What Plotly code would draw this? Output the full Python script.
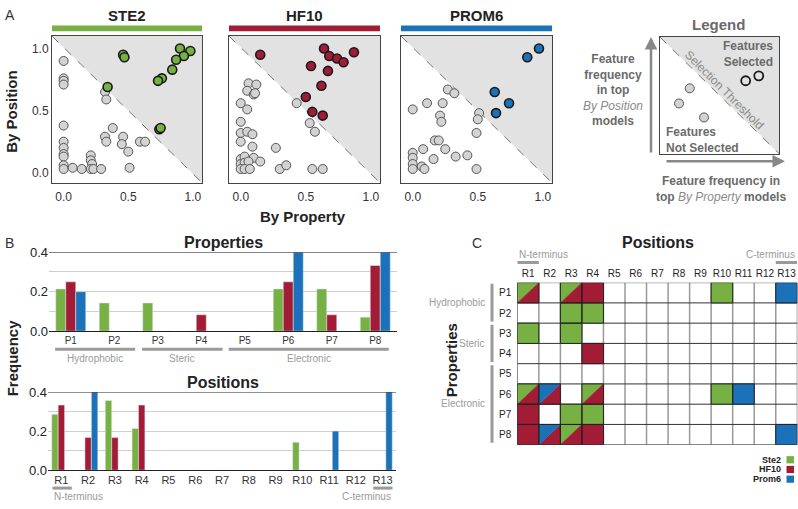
import plotly.graph_objects as go

# ---------------- DATA ----------------
# Panel A: feature frequency (x = By Property, y = By Position)
ste2_sel_x = [0.46, 0.47, 0.90, 0.98, 0.93, 0.87, 0.84, 0.76, 0.73, 0.34, 0.74, 0.75]
ste2_sel_y = [0.95, 0.93, 1.00, 0.98, 0.94, 0.91, 0.83, 0.76, 0.74, 0.69, 0.35, 0.36]
ste2_oth_x = [0, 0, 0, 0, 0.32, 0.33, 0, 0.38, 0.32, 0.33, 0.46, 0.45, 0.50, 0.59, 0.63,
              0, 0, 0, 0, 0, 0, 0.07, 0.14, 0.21, 0.21, 0.22, 0.21, 0.23, 0.29, 0.51]
ste2_oth_y = [0.90, 0.76, 0.74, 0.71, 0.65, 0.59, 0.38, 0.36, 0.29, 0.25, 0.29, 0.23, 0.17, 0.25, 0.25,
              0.25, 0.20, 0.15, 0.13, 0.06, 0.03, 0.04, 0.03, 0.14, 0.10, 0.07, 0.03, 0.03, 0.03, 0.04]

hf10_sel_x = [0.15, 0.64, 0.68, 0.74, 0.79, 0.87, 0.54, 0.67, 0.62, 0.50, 0.55, 0.63]
hf10_sel_y = [0.95, 1.00, 0.94, 0.92, 0.89, 0.97, 0.86, 0.82, 0.70, 0.61, 0.49, 0.46]
hf10_oth_x = [0.06, 0.12, 0.05, 0.10, 0.11, 0, 0.05, 0.43, 0, 0, 0.05, 0.09, 0, 0.09, 0.53, 0.57,
              0.27, 0, 0.03, 0.10, 0.15, 0, 0.03, 0.06, 0, 0.03, 0.07, 0.30, 0.35, 0.55, 0.63]
hf10_oth_y = [0.72, 0.71, 0.66, 0.63, 0.64, 0.56, 0.51, 0.56, 0.41, 0.32, 0.33, 0.31, 0.25, 0.21, 0.40, 0.33,
              0.20, 0.11, 0.13, 0.12, 0.09, 0.07, 0.08, 0.09, 0.03, 0.03, 0.03, 0.03, 0.06, 0.03, 0.03]

prom6_sel_x = [0.97, 0.88, 0.63, 0.74, 0.64]
prom6_sel_y = [1.00, 0.93, 0.65, 0.56, 0.48]
prom6_oth_x = [0.27, 0.32, 0.11, 0.23, 0.0, 0.21, 0.22, 0.51, 0.50, 0.49, 0.17, 0.20, 0.08, 0.25,
               0, 0, 0.16, 0.33, 0.42, 0, 0, 0.07, 0.09, 0.49]
prom6_oth_y = [0.67, 0.64, 0.56, 0.56, 0.51, 0.46, 0.41, 0.48, 0.43, 0.32, 0.26, 0.26, 0.19, 0.19,
               0.16, 0.12, 0.11, 0.13, 0.14, 0.07, 0.03, 0.05, 0.03, 0.03]

# Legend illustration points
legend_unsel_x = [0.25, 0.16, 0.37]
legend_unsel_y = [0.56, 0.43, 0.31]
legend_sel_x = [0.72, 0.83]
legend_sel_y = [0.625, 0.667]

# Panel B
properties = ["P1", "P2", "P3", "P4", "P5", "P6", "P7", "P8"]
prop_ste2 = [0.214, 0.143, 0.143, 0, 0, 0.214, 0.214, 0.071]
prop_hf10 = [0.25, 0, 0, 0.083, 0, 0.25, 0.083, 0.333]
prop_prom6 = [0.2, 0, 0, 0, 0, 0.4, 0, 0.4]

positions = ["R1", "R2", "R3", "R4", "R5", "R6", "R7", "R8", "R9", "R10", "R11", "R12", "R13"]
pos_ste2 = [0.286, 0, 0.357, 0.214, 0, 0, 0, 0, 0, 0.143, 0, 0, 0]
pos_hf10 = [0.333, 0.167, 0.167, 0.333, 0, 0, 0, 0, 0, 0, 0, 0, 0]
pos_prom6 = [0, 0.4, 0, 0, 0, 0, 0, 0, 0, 0, 0.2, 0, 0.4]

prop_groups = ["Hydrophobic", "Steric", "Electronic"]

# Panel C: selected (property, position) cells per dataset
ste2_cells = [("P1", "R1"), ("P1", "R3"), ("P1", "R10"), ("P2", "R3"), ("P2", "R4"),
              ("P3", "R1"), ("P3", "R3"), ("P6", "R1"), ("P6", "R4"), ("P6", "R10"),
              ("P7", "R3"), ("P7", "R4"), ("P8", "R3")]
hf10_cells = [("P1", "R1"), ("P1", "R3"), ("P1", "R4"), ("P4", "R4"), ("P6", "R1"),
              ("P6", "R2"), ("P6", "R4"), ("P7", "R1"), ("P8", "R1"), ("P8", "R2"),
              ("P8", "R3"), ("P8", "R4")]
prom6_cells = [("P1", "R13"), ("P6", "R2"), ("P6", "R11"), ("P8", "R2"), ("P8", "R13")]

# ---------------- STYLE ----------------
GREEN = "#77b043"
RED = "#a31c36"
BLUE = "#1b72b8"
GRAYPT = "#d3d3d3"
TRI = "#e2e2e2"
FONT = "Liberation Sans, Arial, sans-serif"
W, H = 798, 509


def dx(a, b):
    return [a / W, b / W]


def dy(top, bottom):
    return [1 - bottom / H, 1 - top / H]


def px(X):
    return X / W


def py(Y):
    return 1 - Y / H


fig = go.Figure()
annotations = []
shapes = []


def ann(text, X, Y, size=12, color="#222", xanchor="center", angle=0, align="center"):
    annotations.append(dict(text=text, x=px(X), y=py(Y), xref="paper", yref="paper",
                            showarrow=False, xanchor=xanchor, yanchor="middle", textangle=angle,
                            align=align, font=dict(size=size, color=color, family=FONT)))


# ---------------- PANEL A ----------------
panels = [
    ("STE2", GREEN, ste2_sel_x, ste2_sel_y, ste2_oth_x, ste2_oth_y, (52, 202)),
    ("HF10", RED, hf10_sel_x, hf10_sel_y, hf10_oth_x, hf10_oth_y, (229, 380)),
    ("PROM6", BLUE, prom6_sel_x, prom6_sel_y, prom6_oth_x, prom6_oth_y, (401, 552)),
]
layout_axes = {}
for i, (name, col, sx, sy, ox, oy, (x0, x1)) in enumerate(panels):
    s = "" if i == 0 else str(i + 1)
    fig.add_trace(go.Scatter(x=ox, y=oy, mode="markers", xaxis="x" + s, yaxis="y" + s,
                             marker=dict(size=9, color=GRAYPT, line=dict(color="#555", width=1)),
                             showlegend=False, hoverinfo="skip"))
    fig.add_trace(go.Scatter(x=sx, y=sy, mode="markers", xaxis="x" + s, yaxis="y" + s,
                             marker=dict(size=9, color=col, line=dict(color="#1a1a1a", width=1.6)),
                             showlegend=False, hoverinfo="skip"))
    layout_axes["xaxis" + s] = dict(domain=dx(x0, x1), range=[-0.09, 1.07], anchor="y" + s,
                                    tickvals=[0, 0.5, 1], ticktext=["0.0", "0.5", "1.0"],
                                    showline=True, mirror=True, linecolor="#444", linewidth=1,
                                    showgrid=False, zeroline=False, ticks="outside", ticklen=3,
                                    tickcolor="rgba(0,0,0,0)",
                                    tickfont=dict(size=12, color="#333"))
    layout_axes["yaxis" + s] = dict(domain=dy(30, 181), range=[-0.08, 1.10], anchor="x" + s,
                                    tickvals=[0, 0.5, 1], ticktext=["0.0", "0.5", "1.0"],
                                    showticklabels=(i == 0),
                                    showline=True, mirror=True, linecolor="#444", linewidth=1,
                                    showgrid=False, zeroline=False, ticks="",
                                    tickfont=dict(size=12, color="#333"))
    xr = ("x" + s) + " domain"
    yr = ("y" + s) + " domain"
    shapes.append(dict(type="path", path="M 0 1 L 1 1 L 1 0 Z", xref=xr, yref=yr,
                       fillcolor=TRI, line=dict(width=0), layer="below"))
    shapes.append(dict(type="line", x0=0, y0=1, x1=1, y1=0, xref=xr, yref=yr,
                       line=dict(color="#777", width=1, dash="dash"), layer="below"))
    shapes.append(dict(type="rect", x0=px(x0), x1=px(x1), y0=py(25), y1=py(19), xref="paper",
                       yref="paper", fillcolor=col, line=dict(width=0)))
    ann("<b>" + name + "</b>", (x0 + x1) / 2, 9, size=15, color="#222")

ann("A", 3, 8, size=14, color="#333", xanchor="left")
ann("<b>By Position</b>", 12, 108, size=15, angle=-90)
ann("<b>By Property</b>", 303, 216, size=15)

# ---------------- LEGEND BOX ----------------
fig.add_trace(go.Scatter(x=legend_unsel_x, y=legend_unsel_y, mode="markers", xaxis="x4", yaxis="y4",
                         marker=dict(size=9, color=GRAYPT, line=dict(color="#555", width=1)),
                         showlegend=False, hoverinfo="skip"))
fig.add_trace(go.Scatter(x=legend_sel_x, y=legend_sel_y, mode="markers", xaxis="x4", yaxis="y4",
                         marker=dict(size=9, color=TRI, line=dict(color="#1a1a1a", width=1.8)),
                         showlegend=False, hoverinfo="skip"))
layout_axes["xaxis4"] = dict(domain=dx(660, 779), range=[0, 1], anchor="y4", showline=True, mirror=True,
                             linecolor="#444", linewidth=1, showgrid=False, zeroline=False,
                             showticklabels=False, ticks="")
layout_axes["yaxis4"] = dict(domain=dy(31, 151), range=[0, 1], anchor="x4", showline=True, mirror=True,
                             linecolor="#444", linewidth=1, showgrid=False, zeroline=False,
                             showticklabels=False, ticks="")
shapes.append(dict(type="path", path="M 0 1 L 1 1 L 1 0 Z", xref="x4 domain", yref="y4 domain",
                   fillcolor=TRI, line=dict(width=0), layer="below"))
shapes.append(dict(type="line", x0=0, y0=1, x1=1, y1=0, xref="x4 domain", yref="y4 domain",
                   line=dict(color="#777", width=1, dash="dash"), layer="below"))
LG = "#6a6a6a"
ann("<b>Legend</b>", 718, 18, size=15, color=LG)
ann("<b>Features<br>Selected</b>", 775, 48, size=12, color=LG, xanchor="right", align="right")
ann("<b>Features<br>Not Selected</b>", 664, 137, size=12, color=LG, xanchor="left", align="left")
ann("Selection Threshold", 724, 86, size=12, color="#8a8a8a", angle=45)
ann("<b>Feature<br>frequency<br>in top</b><br><i><span style='color:#8a8a8a'>By Position</span></i><br><b>models</b>",
    613, 86, size=12, color=LG)
ann("<b>Feature frequency in<br>top</b> <i><span style='color:#8a8a8a'>By Property</span></i> <b>models</b>",
    721, 188, size=12, color=LG)
# arrows
annotations.append(dict(x=px(651), y=py(31), ax=0, ay=117, xref="paper", yref="paper",
                        showarrow=True, text="",
                        arrowhead=2, arrowsize=1, arrowwidth=2.5, arrowcolor="#888"))
annotations.append(dict(x=px(785), y=py(159), ax=-120, ay=0, xref="paper", yref="paper",
                        showarrow=True, text="", arrowhead=2, arrowsize=1, arrowwidth=2.5,
                        arrowcolor="#888"))

# ---------------- PANEL B ----------------
series = [("Ste2", GREEN), ("HF10", RED), ("Prom6", BLUE)]
prop_vals = [prop_ste2, prop_hf10, prop_prom6]
pos_vals = [pos_ste2, pos_hf10, pos_prom6]
wp = 0.23
for k, (nm, col) in enumerate(series):
    fig.add_trace(go.Bar(x=properties, y=prop_vals[k], xaxis="x5", yaxis="y5", marker_color=col,
                         width=wp, offset=-1.5 * wp + k * wp, showlegend=False, hoverinfo="skip"))
wr = 0.24
for k, (nm, col) in enumerate(series):
    fig.add_trace(go.Bar(x=positions, y=pos_vals[k], xaxis="x6", yaxis="y6", marker_color=col,
                         width=wr, offset=-1.5 * wr + k * wr, showlegend=False, hoverinfo="skip"))

ybar = dict(range=[0, 0.4], tickvals=[0, 0.1, 0.2, 0.3, 0.4], ticktext=["0.0", "", "0.2", "", "0.4"],
            showgrid=True, gridcolor="#cfcfcf", gridwidth=1, zeroline=False, showline=False, ticks="",
            tickfont=dict(size=13, color="#222"))
layout_axes["xaxis5"] = dict(domain=dx(49, 397), range=[-0.5, 7.5], anchor="y5", type="category",
                             showline=True, linecolor="#222", linewidth=1, ticks="", showgrid=False,
                             tickfont=dict(size=10, color="#333"))
layout_axes["yaxis5"] = dict(domain=dy(252.7, 334), anchor="x5", **ybar)
layout_axes["xaxis6"] = dict(domain=dx(48, 396), range=[-0.5, 12.5], anchor="y6", type="category",
                             showline=True, linecolor="#222", linewidth=1, ticks="", showgrid=False,
                             tickfont=dict(size=11, color="#333"))
layout_axes["yaxis6"] = dict(domain=dy(396.7, 477.3), anchor="x6", **ybar)
shapes.append(dict(type="line", xref="x5 domain", yref="y5", x0=0, x1=1, y0=0.4, y1=0.4,
                   line=dict(color="#222", width=1.2)))
shapes.append(dict(type="line", xref="x6 domain", yref="y6", x0=0, x1=1, y0=0.4, y1=0.4,
                   line=dict(color="#222", width=1.2)))

GL = "#9a9a9a"
group_spans = [(-0.36, 1.48), (1.64, 3.49), (3.63, 7.31)]
for (a, b), g in zip(group_spans, prop_groups):
    shapes.append(dict(type="line", xref="x5", yref="paper", x0=a, x1=b, y0=py(352.7), y1=py(352.7),
                       line=dict(color=GL, width=3)))
    annotations.append(dict(text=g, x=(a + b) / 2, y=py(362.5), xref="x5", yref="paper",
                            showarrow=False, yanchor="middle",
                            font=dict(size=10, color=GL, family=FONT)))
shapes.append(dict(type="line", xref="x6", yref="paper", x0=-0.33, x1=0.39, y0=py(495.7), y1=py(495.7),
                   line=dict(color=GL, width=3)))
shapes.append(dict(type="line", xref="x6", yref="paper", x0=11.65, x1=12.37, y0=py(495.7), y1=py(495.7),
                   line=dict(color=GL, width=3)))
annotations.append(dict(text="N-terminus", x=-0.35, y=py(504.5), xref="x6", yref="paper", showarrow=False,
                        xanchor="left", yanchor="middle", font=dict(size=10, color=GL, family=FONT)))
annotations.append(dict(text="C-terminus", x=12.4, y=py(504.5), xref="x6", yref="paper", showarrow=False,
                        xanchor="right", yanchor="middle", font=dict(size=10, color=GL, family=FONT)))

ann("B", 3, 243, size=14, color="#333", xanchor="left")
ann("<b>Properties</b>", 223, 243, size=16)
ann("<b>Positions</b>", 223, 387, size=16)
ann("<b>Frequency</b>", 12, 362, size=15, angle=-90)

# ---------------- PANEL C ----------------
nR, nP = len(positions), len(properties)
cell_map = {}
for nm, cells in [("Ste2", ste2_cells), ("HF10", hf10_cells), ("Prom6", prom6_cells)]:
    for (p, r) in cells:
        cell_map.setdefault((p, r), []).append(nm)
color_of = {"Ste2": GREEN, "HF10": RED, "Prom6": BLUE}
polys = {"Ste2": ([], []), "HF10": ([], []), "Prom6": ([], [])}
outline_x, outline_y = [], []
for (p, r), lst in cell_map.items():
    c = positions.index(r)
    rr = properties.index(p)
    if len(lst) == 1:
        xs = [c, c + 1, c + 1, c, c]
        ys = [rr, rr, rr + 1, rr + 1, rr]
        polys[lst[0]][0].extend(xs + [None])
        polys[lst[0]][1].extend(ys + [None])
    else:
        first = [s for s in lst if s != "HF10"][0]
        polys[first][0].extend([c, c + 1, c, c, None])
        polys[first][1].extend([rr, rr, rr + 1, rr, None])
        polys["HF10"][0].extend([c + 1, c + 1, c, c + 1, None])
        polys["HF10"][1].extend([rr, rr + 1, rr + 1, rr, None])
    outline_x.extend([c, c + 1, c + 1, c, c, None])
    outline_y.extend([rr, rr, rr + 1, rr + 1, rr, None])
for nm, (xs, ys) in polys.items():
    fig.add_trace(go.Scatter(x=xs, y=ys, xaxis="x7", yaxis="y7", mode="lines", fill="toself",
                             fillcolor=color_of[nm], line=dict(color=color_of[nm], width=0.5),
                             showlegend=False, hoverinfo="skip"))
fig.add_trace(go.Scatter(x=outline_x, y=outline_y, xaxis="x7", yaxis="y7", mode="lines",
                         line=dict(color="#222", width=1), showlegend=False, hoverinfo="skip"))

layout_axes["xaxis7"] = dict(domain=dx(517.3, 797.3), range=[0, nR], anchor="y7", side="top",
                             tickvals=[i + 0.5 for i in range(nR)], ticktext=positions,
                             showgrid=False, zeroline=False, showline=False, ticks="outside",
                             ticklen=1, tickcolor="rgba(0,0,0,0)",
                             tickfont=dict(size=10, color="#222"))
layout_axes["yaxis7"] = dict(domain=dy(284, 451), range=[nP, 0], anchor="x7",
                             tickvals=[i + 0.5 for i in range(nP)], ticktext=properties,
                             showgrid=False, zeroline=False, showline=False, ticks="outside",
                             ticklen=3, tickcolor="rgba(0,0,0,0)",
                             tickfont=dict(size=10, color="#222"))
for i in range(nR + 1):
    edge = i in (0, nR)
    shapes.append(dict(type="line", xref="x7", yref="y7", x0=i, x1=i, y0=0, y1=nP, layer="below",
                       line=dict(color="#333" if edge else "#9a9a9a", width=1 if edge else 1.5)))
for j in range(nP + 1):
    shapes.append(dict(type="line", xref="x7", yref="y7", x0=0, x1=nR, y0=j, y1=j, layer="below",
                       line=dict(color="#333", width=1)))

group_rows = [(0.05, 1.92), (2.08, 3.92), (4.08, 7.9)]
for (a, b), g in zip(group_rows, prop_groups):
    shapes.append(dict(type="line", xref="paper", yref="y7", x0=px(492), x1=px(492), y0=a, y1=b,
                       line=dict(color=GL, width=3)))
    annotations.append(dict(text=g, x=px(487), y=(a + b) / 2, xref="paper", yref="y7", showarrow=False,
                            xanchor="right", yanchor="middle", font=dict(size=10, color=GL, family=FONT)))

shapes.append(dict(type="line", xref="x7", yref="paper", x0=0, x1=1, y0=py(263.3), y1=py(263.3),
                   line=dict(color=GL, width=3)))
shapes.append(dict(type="line", xref="x7", yref="paper", x0=nR - 1, x1=nR, y0=py(263.3), y1=py(263.3),
                   line=dict(color=GL, width=3)))
annotations.append(dict(text="N-terminus", x=0, y=py(255), xref="x7", yref="paper", showarrow=False,
                        xanchor="left", yanchor="middle", font=dict(size=10, color=GL, family=FONT)))
annotations.append(dict(text="C-terminus", x=nR, y=py(255), xref="x7", yref="paper", showarrow=False,
                        xanchor="right", yanchor="middle", font=dict(size=10, color=GL, family=FONT)))

ann("C", 470, 243, size=14, color="#333", xanchor="left")
ann("<b>Positions</b>", 658, 243, size=16)
ann("<b>Properties</b>", 451, 364, size=15, angle=-90)

# heatmap legend
for k, (nm, col) in enumerate(series):
    Yc = 466.5 + k * 10
    ann("<b>" + nm + "</b>", 783, Yc, size=9, color="#222", xanchor="right")
    shapes.append(dict(type="rect", xref="paper", yref="paper", x0=px(786.5), x1=px(794),
                       y0=py(Yc + 3.7), y1=py(Yc - 3.7), fillcolor=col, line=dict(width=0)))

fig.update_layout(width=W, height=H, margin=dict(l=0, r=0, t=0, b=0),
                  paper_bgcolor="white", plot_bgcolor="white", barmode="overlay",
                  font=dict(family=FONT, color="#222"),
                  shapes=shapes, annotations=annotations, **layout_axes)
fig.write_html("out.html", config={"displayModeBar": False},
               post_script="document.body.style.margin='0';document.body.style.padding='0';")
